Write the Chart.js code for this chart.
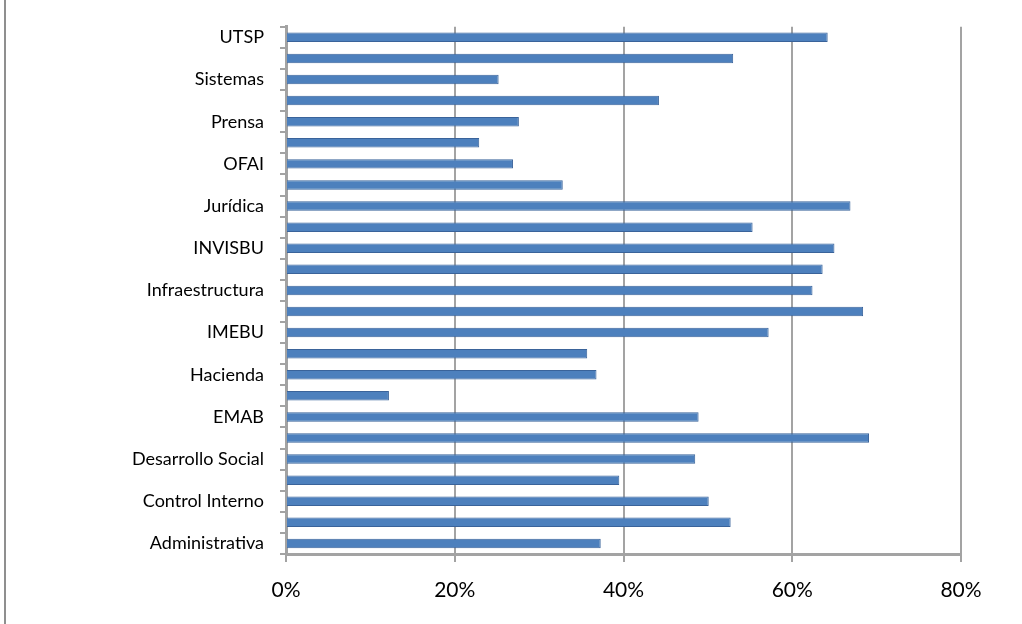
<!DOCTYPE html>
<html>
<head>
<meta charset="utf-8">
<script src="https://cdn.jsdelivr.net/npm/chart.js@4.4.1/dist/chart.umd.min.js"></script>
<style>
  html, body { margin: 0; padding: 0; background: #fff; }
  #wrap { position: relative; width: 1022px; height: 624px; }
  #frame { position: absolute; left: 4px; top: 0; width: 2px; height: 624px; background: #8f8f8f; }
</style>
</head>
<body>
<div id="wrap">
  <div id="frame"></div>
  <canvas id="barChart" width="1022" height="624"></canvas>
</div>
<script>
// categories from bottom to top, only every other one is labelled in the original
const categories = [
  "Administrativa", "", "Control Interno", "", "Desarrollo Social", "",
  "EMAB", "", "Hacienda", "", "IMEBU", "", "Infraestructura", "",
  "INVISBU", "", "Jurídica", "", "OFAI", "", "Prensa", "", "Sistemas", "", "UTSP"
];
// percent values, same order
const values = [
  37.3, 52.7, 50.1, 39.5, 48.5, 69.1, 48.9, 12.2, 36.8, 35.7, 57.2, 68.4, 62.4,
  63.6, 65.0, 55.3, 66.9, 32.8, 26.9, 22.9, 27.6, 44.2, 25.2, 53.0, 64.2
];
const xTicks = [0, 20, 40, 60, 80];

const axisGray = "#a3a3a3";

const ctx = document.getElementById("barChart").getContext("2d");
const barChart = new Chart(ctx, {
  type: "bar",
  data: {
    labels: categories,
    datasets: [
      {
        data: values,
        backgroundColor: "#4d80bd",
        borderColor: "#3a639a",
        borderWidth: 1,
        categoryPercentage: 1,
        barPercentage: 0.45,
      },
    ],
  },
  options: {
    indexAxis: "y",
    responsive: false,
    animation: false,
    layout: { padding: { top: 25, right: 61, bottom: 0, left: 0 } },
    scales: {
      x: {
        min: 0,
        max: 80,
        afterBuildTicks: (scale) => {
          scale.ticks = xTicks.map((v) => ({ value: v }));
        },
        afterFit: (scale) => {
          scale.height = 70;
        },
        ticks: {
          callback: (v) => v + "%",
          color: "#000",
          font: { family: "Lato", size: 21 },
          padding: 16,
        },
        grid: {
          color: axisGray,
          lineWidth: 2,
          tickLength: 8,
        },
        border: { display: true, color: axisGray, width: 3 },
      },
      y: {
        reverse: true,
        afterFit: (scale) => {
          scale.width = 286;
        },
        ticks: {
          autoSkip: false,
          color: "#000",
          font: { family: "Lato", size: 18 },
          padding: 16,
        },
        grid: {
          offset: true,
          drawOnChartArea: false,
          color: axisGray,
          lineWidth: 2,
          tickLength: 6,
        },
        border: { display: true, color: axisGray, width: 3 },
      },
    },
    plugins: {
      legend: { display: false },
      tooltip: { enabled: false },
    },
  },
});
</script>
</body>
</html>
